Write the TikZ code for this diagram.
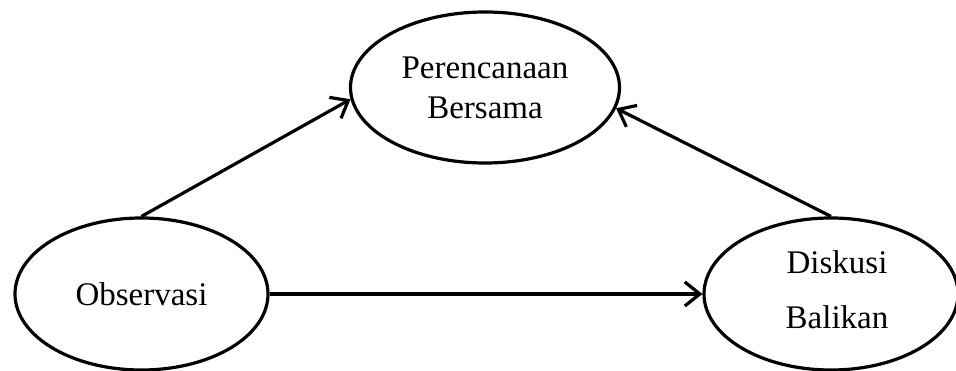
\documentclass[tikz,border=0pt]{standalone}
\usepackage{fontspec}
\setmainfont{Liberation Serif}
\usetikzlibrary{shapes.geometric,arrows.meta}
\begin{document}
\begin{tikzpicture}[x=1pt,y=-1pt,
  blob/.style={draw, ellipse, line width=3.2pt, inner sep=0pt, align=center,
    font=\fontsize{33}{40}\selectfont},
  link/.style={line width=3.2pt, -{Straight Barb[length=15pt,width=24pt,line width=3.2pt]}}]
\useasboundingbox (0,0) rectangle (956,371);
\node[blob, minimum width=269pt, minimum height=151pt] (T) at (485,87.5) {Perencanaan\\Bersama};
\node[blob, minimum width=253pt, minimum height=152pt] (L) at (141.5,294) {\raisebox{-3pt}{Observasi}};
\node[blob, minimum width=254pt, minimum height=152pt,
  font=\fontsize{33}{55}\selectfont] (R) at (831,294) {\hspace*{12pt}Diskusi\\\hspace*{12pt}Balikan\rule[-8pt]{0pt}{1pt}};
\draw[link] (L.north) -- (T.185);
\draw[link] (R.north) -- (T.-9);
\draw[link] (L.east) -- (R.west);
\end{tikzpicture}
\end{document}
